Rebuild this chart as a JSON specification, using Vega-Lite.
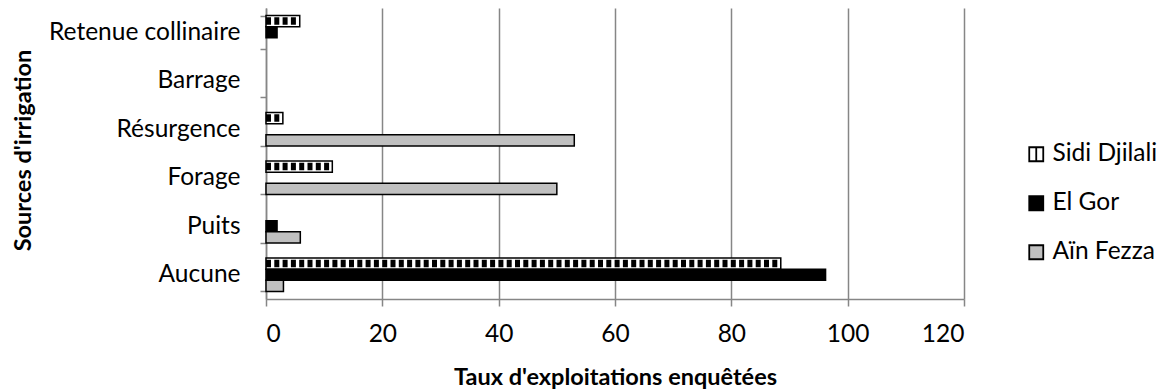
{
  "$schema": "https://vega.github.io/schema/vega-lite/v6.json",
  "width": 698,
  "height": 291,
  "autosize": "none",
  "padding": {"left": 266, "top": 8, "right": 198, "bottom": 93},
  "background": "white",
  "config": {
    "view": {"stroke": null},
    "font": "Lato",
    "legend": {
      "orient": "none",
      "legendX": 758,
      "legendY": 134,
      "labelFontSize": 24.5,
      "labelColor": "black",
      "labelOffset": 4,
      "rowPadding": 24,
      "symbolSize": 196,
      "symbolStrokeWidth": 1.8,
      "symbolOpacity": 1
    }
  },
  "data": {
    "values": [
      {"source": "Retenue collinaire", "site": "Sidi Djilali", "taux": 5.8},
      {"source": "Retenue collinaire", "site": "El Gor", "taux": 1.9},
      {"source": "Retenue collinaire", "site": "Aïn Fezza", "taux": 0},
      {"source": "Barrage", "site": "Sidi Djilali", "taux": 0},
      {"source": "Barrage", "site": "El Gor", "taux": 0},
      {"source": "Barrage", "site": "Aïn Fezza", "taux": 0},
      {"source": "Résurgence", "site": "Sidi Djilali", "taux": 2.9},
      {"source": "Résurgence", "site": "El Gor", "taux": 0},
      {"source": "Résurgence", "site": "Aïn Fezza", "taux": 53},
      {"source": "Forage", "site": "Sidi Djilali", "taux": 11.4},
      {"source": "Forage", "site": "El Gor", "taux": 0},
      {"source": "Forage", "site": "Aïn Fezza", "taux": 50},
      {"source": "Puits", "site": "Sidi Djilali", "taux": 0},
      {"source": "Puits", "site": "El Gor", "taux": 1.9},
      {"source": "Puits", "site": "Aïn Fezza", "taux": 5.9},
      {"source": "Aucune", "site": "Sidi Djilali", "taux": 88.5},
      {"source": "Aucune", "site": "El Gor", "taux": 96.2},
      {"source": "Aucune", "site": "Aïn Fezza", "taux": 3}
    ]
  },
  "encoding": {
    "y": {
      "field": "source",
      "type": "nominal",
      "scale": {
        "domain": ["Retenue collinaire", "Barrage", "Résurgence", "Forage", "Puits", "Aucune"],
        "paddingInner": 0.31,
        "paddingOuter": 0.155
      },
      "axis": {
        "title": "Sources d'irrigation",
        "tickBand": "extent",
        "tickSize": 6,
        "tickColor": "#868686",
        "tickWidth": 1.5,
        "domainColor": "#868686",
        "domainWidth": 1.5,
        "labelFontSize": 24.5,
        "labelColor": "black",
        "labelPadding": 20,
        "labelLimit": 300,
        "titleFontSize": 23.5,
        "titleFontWeight": "bold",
        "titleColor": "black",
        "titleAngle": 270,
        "titleX": -243,
        "titleY": 142,
        "titleAlign": "center",
        "titleBaseline": "middle",
        "grid": false
      }
    },
    "yOffset": {
      "field": "site",
      "type": "nominal",
      "scale": {"domain": ["Sidi Djilali", "El Gor", "Aïn Fezza"], "paddingInner": 0, "paddingOuter": 0}
    },
    "x": {
      "field": "taux",
      "type": "quantitative",
      "scale": {"domain": [0, 120]},
      "axis": {
        "title": "Taux d'exploitations enquêtées",
        "values": [0, 20, 40, 60, 80, 100, 120],
        "grid": true,
        "gridColor": "#868686",
        "gridWidth": 1.5,
        "domainColor": "#868686",
        "domainWidth": 1.5,
        "tickColor": "#868686",
        "tickWidth": 1.5,
        "tickSize": 7,
        "labelFontSize": 24.5,
        "labelColor": "black",
        "labelPadding": 16,
        "titleFontSize": 23.5,
        "titleFontWeight": "bold",
        "titleColor": "black",
        "titlePadding": 20
      }
    }
  },
  "layer": [
    {
      "transform": [{"filter": "datum.taux > 0"}],
      "mark": {"type": "bar", "stroke": "black", "strokeWidth": 1.5, "opacity": 1},
      "encoding": {
        "fill": {
          "field": "site",
          "type": "nominal",
          "scale": {"domain": ["Sidi Djilali", "El Gor", "Aïn Fezza"], "range": ["white", "black", "#c0c0c0"]},
          "legend": {"title": null}
        }
      }
    },
    {
      "transform": [{"filter": "datum.site === 'Sidi Djilali' && datum.taux > 0"}],
      "mark": {"type": "rule", "color": "black", "strokeWidth": 7.5, "strokeDash": [5, 3.3], "strokeCap": "butt"},
      "encoding": {
        "x": {"datum": 0},
        "x2": {"field": "taux"}
      }
    },
    {
      "transform": [{"filter": "datum.taux < 0"}],
      "mark": {"type": "point", "filled": true, "strokeWidth": 1.8, "opacity": 1},
      "encoding": {
        "fill": {
          "field": "site",
          "type": "nominal",
          "legend": {"title": null}
        },
        "stroke": {
          "field": "site",
          "type": "nominal",
          "scale": {"domain": ["Sidi Djilali", "El Gor", "Aïn Fezza"], "range": ["black", "black", "black"]},
          "legend": {"title": null}
        },
        "shape": {
          "field": "site",
          "type": "nominal",
          "scale": {
            "domain": ["Sidi Djilali", "El Gor", "Aïn Fezza"],
            "range": ["M-1,-1H1V1H-1Z M0,-1V1", "square", "square"]
          },
          "legend": {"title": null}
        }
      }
    }
  ]
}
